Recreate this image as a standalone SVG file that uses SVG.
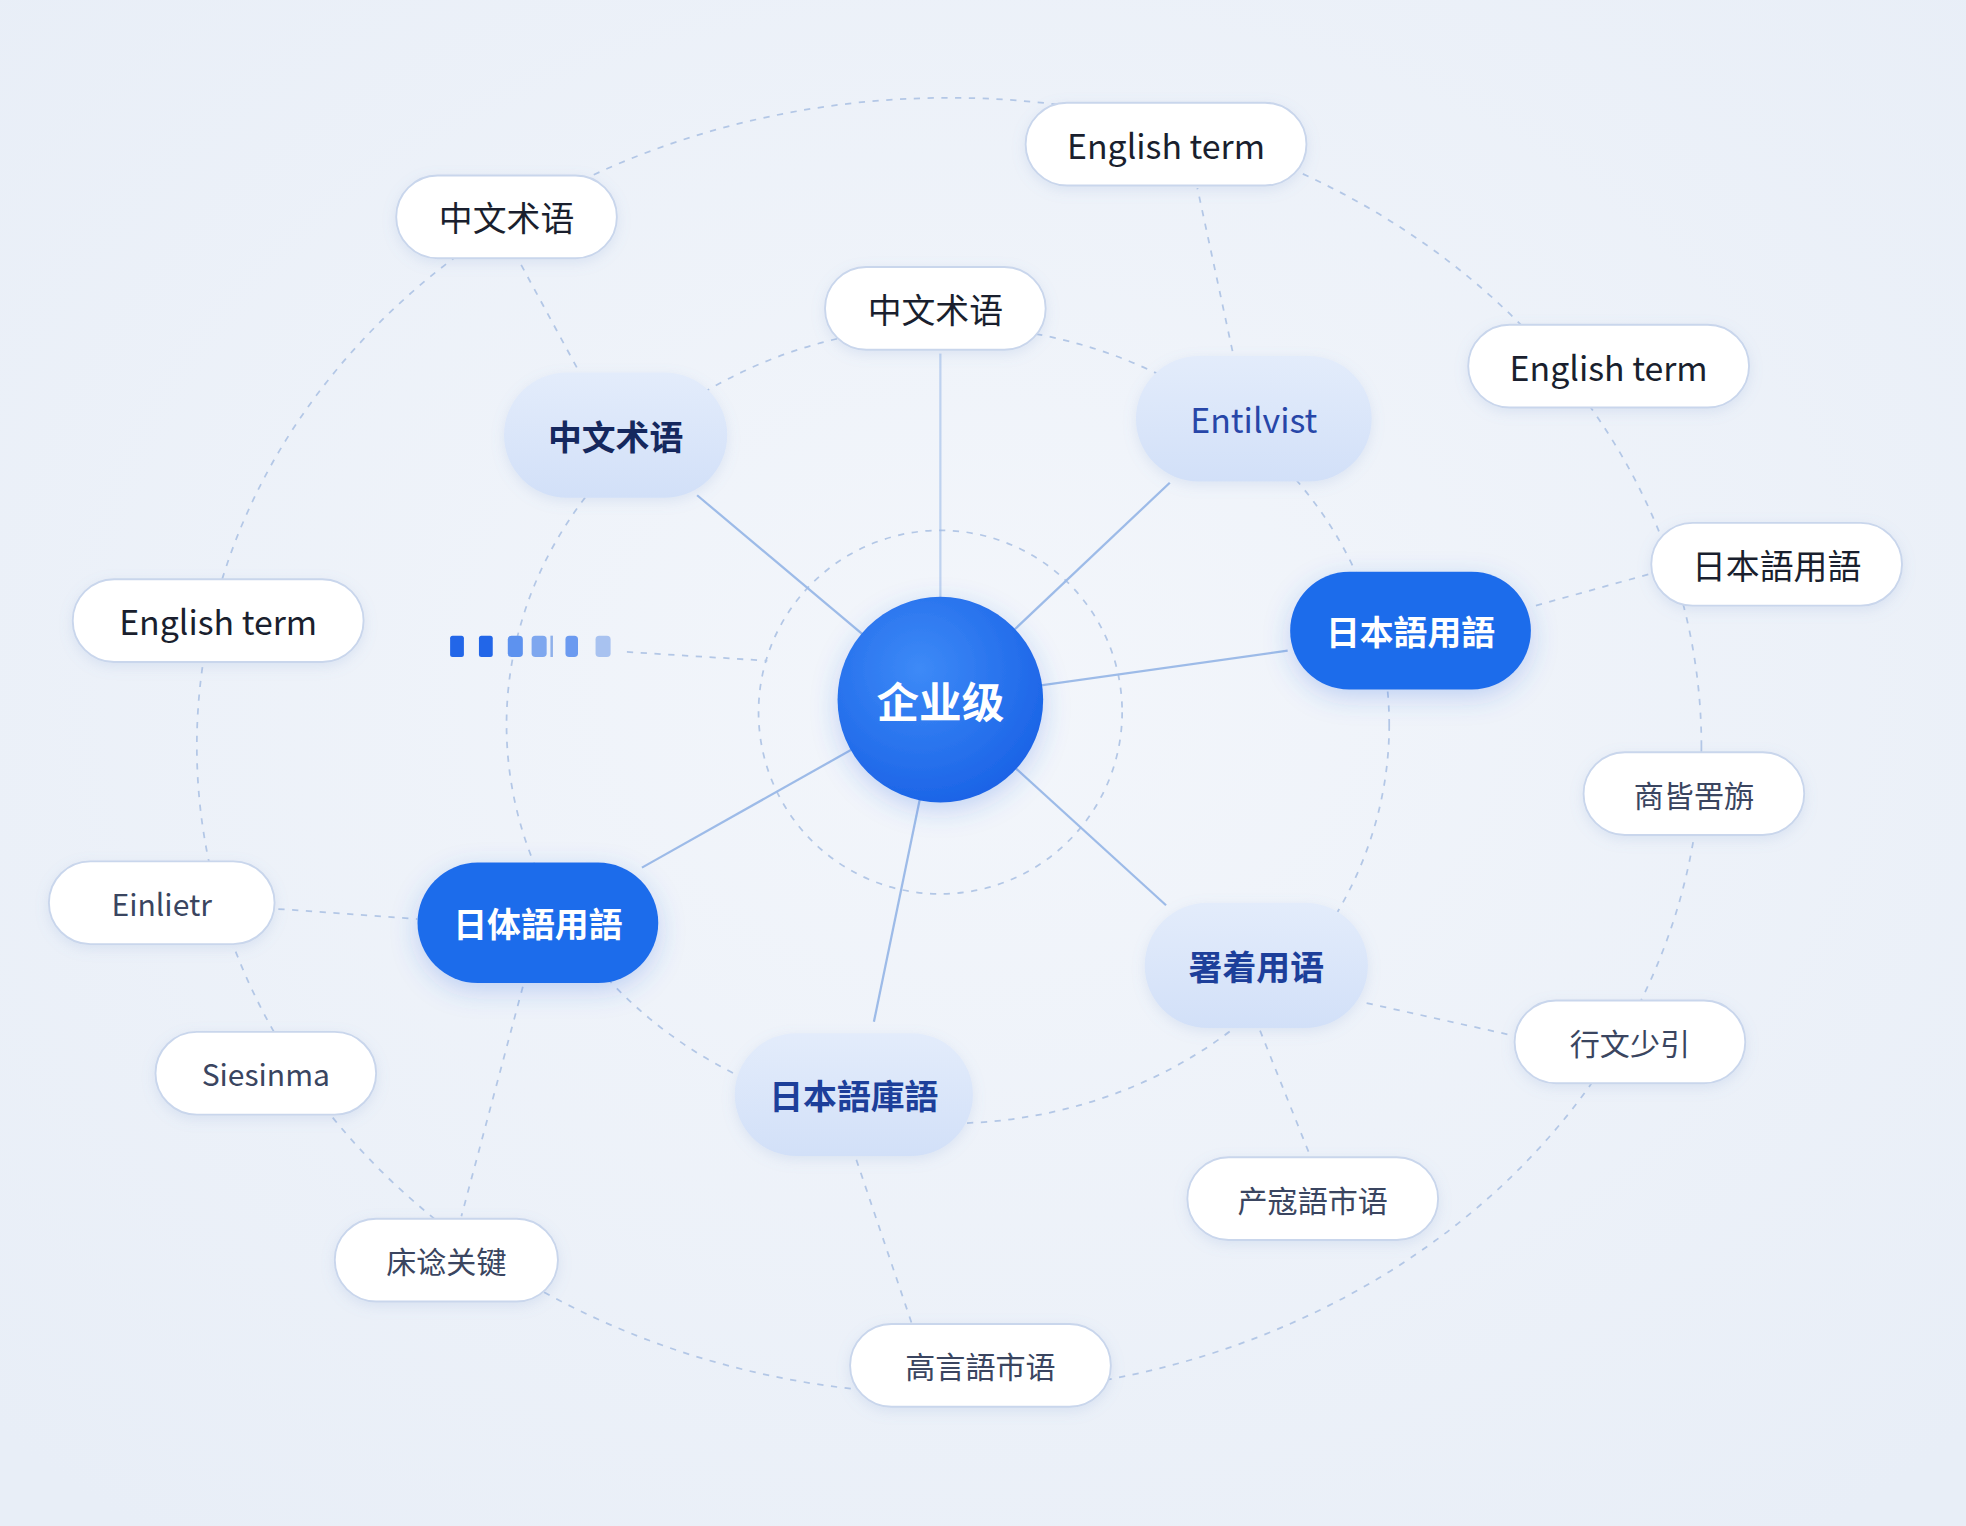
<svg xmlns="http://www.w3.org/2000/svg" width="1966" height="1526" viewBox="0 0 1966 1526">
<defs>
<radialGradient id="bg" cx="50%" cy="45%" r="70%"><stop offset="0" stop-color="#f3f6fb"/><stop offset="1" stop-color="#e8eef7"/></radialGradient>
<radialGradient id="cg" cx="40%" cy="35%" r="70%"><stop offset="0" stop-color="#3d8af7"/><stop offset="1" stop-color="#1a62e6"/></radialGradient>
<linearGradient id="lg" x1="0" y1="0" x2="0" y2="1"><stop offset="0" stop-color="#e3ecfb"/><stop offset="1" stop-color="#d2e0f8"/></linearGradient>
<filter id="sh" x="-30%" y="-30%" width="160%" height="170%"><feDropShadow dx="0" dy="6" stdDeviation="10" flood-color="#2a66e0" flood-opacity="0.25"/></filter>
<filter id="sh2" x="-30%" y="-30%" width="160%" height="170%"><feDropShadow dx="0" dy="3" stdDeviation="5" flood-color="#7d9bd0" flood-opacity="0.18"/></filter>
</defs>
<style>
.pill{fill:#fff;stroke:#c9d6ec;stroke-width:1.5;filter:url(#sh2)}
.l1{fill:url(#lg);filter:url(#sh2)}
.bl{fill:#1f6ceb;filter:url(#sh)}
.solid{stroke:#9dbbe8;stroke-width:1.8;fill:none}
.dash{stroke:#b3c7e6;stroke-width:1.4;stroke-dasharray:5 6;fill:none}
text{font-family:"Noto Sans CJK SC","Liberation Sans",sans-serif;text-anchor:middle;dominant-baseline:central}
.tp{font-size:27px;fill:#1a1f2e}
.tg{font-size:24px;fill:#3a4560}
.tl{font-size:27px;font-weight:bold;fill:#1d3f9a}
.tb{font-size:27px;font-weight:bold;fill:#fff}
</style>
<rect width="1966" height="1526" fill="url(#bg)"/>
<g transform="scale(1.2538)">
<g id="connectors">
<ellipse cx="757" cy="595" rx="600" ry="517" class="dash"/>
<ellipse cx="756" cy="578" rx="352" ry="318" class="dash"/>
<circle cx="750" cy="568" r="145" class="dash"/>
<line x1="750" y1="558" x2="556" y2="395" class="solid"/>
<line x1="750" y1="558" x2="933" y2="385" class="solid"/>
<line x1="750" y1="558" x2="1027" y2="519" class="solid"/>
<line x1="750" y1="558" x2="930" y2="722" class="solid"/>
<line x1="750" y1="558" x2="697" y2="815" class="solid"/>
<line x1="750" y1="558" x2="512" y2="692" class="solid"/>
<line x1="750" y1="478" x2="750" y2="282" class="solid" stroke-opacity="0.6"/>
<line x1="460" y1="293" x2="415" y2="210" class="dash"/>
<line x1="983" y1="280" x2="955" y2="150" class="dash"/>
<line x1="1225" y1="483" x2="1315" y2="458" class="dash"/>
<line x1="500" y1="520" x2="612" y2="527" class="dash"/>
<line x1="222" y1="725" x2="333" y2="733" class="dash"/>
<line x1="683" y1="925" x2="727" y2="1055" class="dash"/>
<line x1="1005" y1="822" x2="1045" y2="922" class="dash"/>
<line x1="1090" y1="800" x2="1207" y2="826" class="dash"/>
<line x1="417" y1="787" x2="368" y2="970" class="dash"/>
</g>
<g id="center"><circle cx="750" cy="558" r="82" fill="url(#cg)" filter="url(#sh)"/><text x="750" y="558" style="font-size:34px;font-weight:bold;fill:#fff">企业级</text></g>
<g id="n1"><rect x="402" y="297" width="178" height="100" rx="50" class="l1"/><text x="491" y="347" class="tl" style="fill:#15285e">中文术语</text></g>
<g id="n2"><rect x="906" y="284" width="188" height="100" rx="50" class="l1"/><text x="1000" y="334" class="tl" style="font-weight:normal;fill:#2746a8">Entilvist</text></g>
<g id="n3"><rect x="913" y="720" width="178" height="100" rx="50" class="l1"/><text x="1002" y="770" class="tl">署着用语</text></g>
<g id="n4"><rect x="586" y="824" width="190" height="98" rx="49" class="l1"/><text x="681" y="873" class="tl">日本語庫語</text></g>
<g id="n5"><rect x="1029" y="456" width="192" height="94" rx="47" class="bl"/><text x="1125" y="503" class="tb">日本語用語</text></g>
<g id="n6"><rect x="333" y="688" width="192" height="96" rx="48" class="bl"/><text x="429" y="736" class="tb">日体語用語</text></g>
<g id="bars" fill="#2266e8">
<rect x="359" y="507" width="11" height="17" rx="2"/><rect x="382" y="507" width="11" height="17" rx="2"/>
<rect x="405" y="507" width="12" height="17" rx="3" fill="#5d92ef"/><rect x="424" y="507" width="12" height="17" rx="3" fill="#7ea7ef"/>
<rect x="439" y="507" width="2" height="17" fill="#8fb0ea"/><rect x="451" y="507" width="10" height="17" rx="3" fill="#6b9af0"/>
<rect x="475" y="507" width="12" height="17" rx="3" fill="#a8c2f0"/>
</g>
<g id="p1"><rect x="818" y="82" width="224" height="66" rx="33" class="pill"/><text x="930" y="115" class="tp">English term</text></g>
<g id="p2"><rect x="316" y="140" width="176" height="66" rx="33" class="pill"/><text x="404" y="173" class="tp">中文术语</text></g>
<g id="p3"><rect x="658" y="213" width="176" height="66" rx="33" class="pill"/><text x="746" y="246" class="tp">中文术语</text></g>
<g id="p4"><rect x="1171" y="259" width="224" height="66" rx="33" class="pill"/><text x="1283" y="292" class="tp">English term</text></g>
<g id="p5"><rect x="1317" y="417" width="200" height="66" rx="33" class="pill"/><text x="1417" y="450" class="tp">日本語用語</text></g>
<g id="p6"><rect x="58" y="462" width="232" height="66" rx="33" class="pill"/><text x="174" y="495" class="tp">English term</text></g>
<g id="p7"><rect x="1263" y="600" width="176" height="66" rx="33" class="pill"/><text x="1351" y="633" class="tg">商皆罟旃</text></g>
<g id="p8"><rect x="39" y="687" width="180" height="66" rx="33" class="pill"/><text x="129" y="720" class="tg">Einlietr</text></g>
<g id="p9"><rect x="1208" y="798" width="184" height="66" rx="33" class="pill"/><text x="1300" y="831" class="tg">行文少引</text></g>
<g id="p10"><rect x="124" y="823" width="176" height="66" rx="33" class="pill"/><text x="212" y="856" class="tg">Siesinma</text></g>
<g id="p11"><rect x="947" y="923" width="200" height="66" rx="33" class="pill"/><text x="1047" y="956" class="tg">产寇語市语</text></g>
<g id="p12"><rect x="267" y="972" width="178" height="66" rx="33" class="pill"/><text x="356" y="1005" class="tg">床谂关键</text></g>
<g id="p13"><rect x="678" y="1056" width="208" height="66" rx="33" class="pill"/><text x="782" y="1089" class="tg">高言語市语</text></g>
</g>
</svg>
